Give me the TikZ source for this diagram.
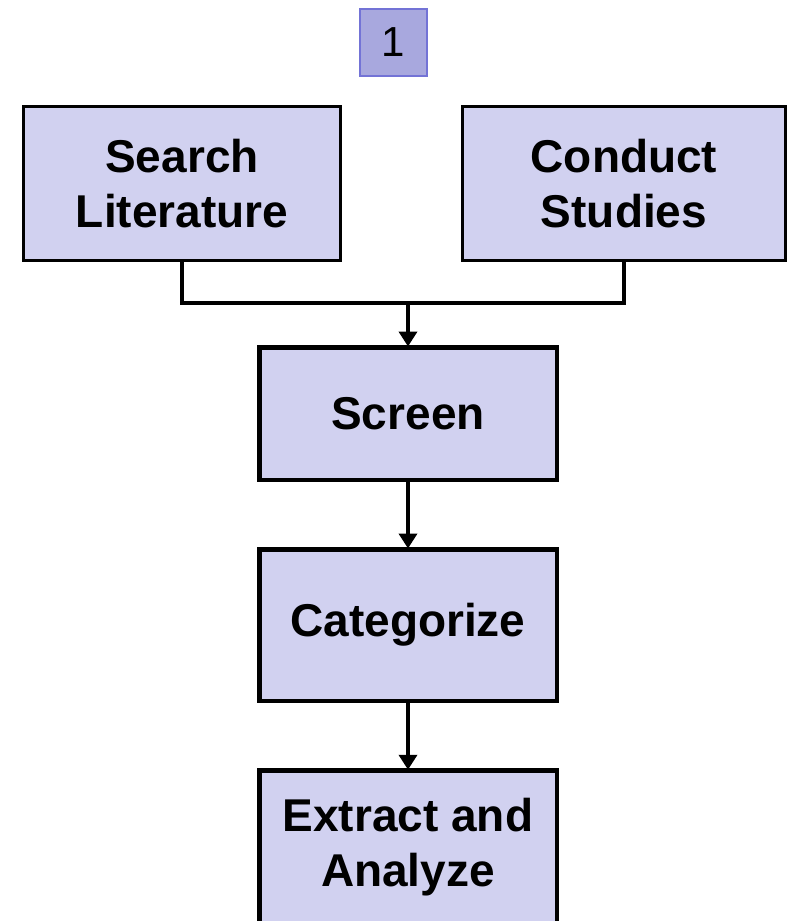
\documentclass[tikz,border=0pt]{standalone}
\usepackage{fontspec}
\setmainfont{Liberation Sans}
\usetikzlibrary{arrows.meta}
\definecolor{boxfill}{HTML}{D1D1F0}
\definecolor{numfill}{HTML}{A8A8DE}
\definecolor{numdraw}{HTML}{7373D6}
\tikzset{
  topbox/.style={draw=black, fill=boxfill, line width=3pt, inner sep=0pt,
    align=center, font=\fontsize{46}{55}\selectfont\bfseries},
  flowbox/.style={draw=black, fill=boxfill, line width=4.5pt, inner sep=0pt,
    minimum width=297.5pt, align=center, font=\fontsize{46}{55}\selectfont\bfseries},
  numbox/.style={draw=numdraw, fill=numfill, line width=1.8pt, inner sep=0pt,
    minimum width=67pt, minimum height=67pt, font=\fontsize{42}{50}\selectfont},
  conn/.style={line width=4pt, draw=black},
  arr/.style={conn, -{Triangle[width=18pt,length=15pt]}}
}
\begin{document}
\begin{tikzpicture}[x=1pt,y=-1pt]
\useasboundingbox (0,0) rectangle (789,921);
\clip (0,0) rectangle (789,921);
\node[numbox] (num) at (393.5,42.5) {1};
\node[topbox, minimum width=317pt, minimum height=154pt] (search) at (182,183.5) {Search\\Literature};
\node[topbox, minimum width=323pt, minimum height=154pt] (conduct) at (624,183.5) {Conduct\\Studies};
\node[flowbox, minimum height=132.5pt] (screen) at (408,413.5) {Screen};
\node[flowbox, minimum height=151.5pt] (categorize) at (408,625) {Categorize};
\node[flowbox, minimum height=154pt] (extract) at (408,847.5) {Extract and\\Analyze};
\coordinate (join) at (408,303);
\draw[conn] (search.south) |- (join) -| (conduct.south);
\draw[arr, shorten >=-1.5pt] (join) -- (screen.north);
\draw[arr, shorten >=-1.5pt] (screen.south) -- (categorize.north);
\draw[arr, shorten >=-1.5pt] (categorize.south) -- (extract.north);
\end{tikzpicture}
\end{document}
